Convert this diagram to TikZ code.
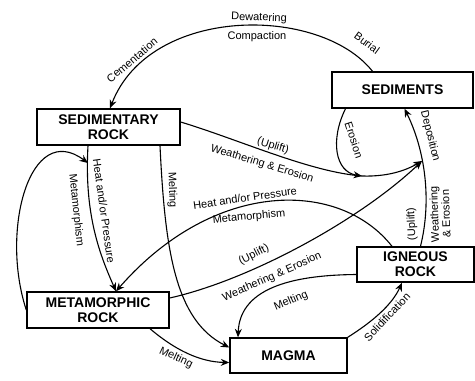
\documentclass[tikz,border=0pt]{standalone}
\usepackage{fontspec}
\setmainfont{Liberation Sans}
\usetikzlibrary{arrows.meta}
\tikzset{>={Stealth[length=8.5pt,width=7pt]}}
\tikzset{box/.style={draw,line width=1.4pt,inner sep=0pt,align=center,font=\fontsize{14}{15}\selectfont\bfseries}}
\tikzset{lbl/.style={inner sep=0pt,align=center,font=\fontsize{11}{11.5}\selectfont}}
\tikzset{flow/.style={->,line width=1.1pt}}

\begin{document}
\begin{tikzpicture}[x=1pt,y=-1pt]
                \useasboundingbox (0,0) rectangle (475,381);
                \node[box,minimum width=143pt,minimum height=36pt] (sedrock) at (108.5,127) {SEDIMENTARY\\ROCK};
                \node[box,minimum width=141pt,minimum height=36pt] (sediments) at (402.5,90) {SEDIMENTS};
                \node[box,minimum width=142pt,minimum height=36pt] (metarock) at (98,310) {METAMORPHIC\\ROCK};
                \node[box,minimum width=117pt,minimum height=35pt] (magma) at (288.5,355.5) {MAGMA};
                \node[box,minimum width=117pt,minimum height=35pt] (igneous) at (415.5,264.5) {IGNEOUS\\ROCK};

                \coordinate (ero) at (362,176);
                \coordinate (dep) at (422,161);
                \coordinate (remeta) at (88,163);

                \draw[flow] ([xshift=-30pt]sediments.north) .. controls (320,5) and (150,5) .. ([xshift=1.5pt]sedrock.north);
                \draw[flow] ([xshift=-57pt]sediments.south) .. controls (330,140) and (335,172) .. (ero);
                \draw[flow] ([yshift=5pt]sedrock.east) .. controls (240,140) and (310,172) .. (ero) .. controls (392,177) and (410,168) .. (dep);
                \draw[flow] ([xshift=5pt]igneous.north) .. controls (432,200) and (425,150) .. ([xshift=2pt]sediments.south);
                \draw[flow] ([xshift=-20.5pt]sedrock.south) .. controls (84,215) and (100,255) .. ([xshift=18pt]metarock.north);
                \draw[flow] (metarock.west) .. controls (0,230) and (30,120) .. (remeta);
                \draw[flow] ([xshift=51.5pt]sedrock.south) .. controls (165,250) and (175,320) .. ([yshift=8pt]magma.west);
                \draw[flow] ([xshift=-23.5pt]igneous.north) .. controls (340,180) and (215,178) .. ([xshift=18pt]metarock.north);
                \draw[flow] ([yshift=12pt]metarock.east) .. controls (250,280) and (360,220) .. (dep);
                \draw[flow] ([yshift=-10pt]igneous.west) .. controls (300,275) and (240,285) .. ([xshift=-50.5pt]magma.north);
                \draw[flow] (magma.north east) .. controls (372,322) and (392,305) .. ([xshift=-13.5pt]igneous.south);
                \draw[flow] ([xshift=52pt]metarock.south) .. controls (175,350) and (200,362) .. ([yshift=-7pt]magma.west);

                \node[lbl,rotate=-2] (dewater) at (259,18) {Dewatering};
                \node[lbl] (compact) at (257,37) {Compaction};
                \node[lbl,rotate=-36] (burial) at (367,43) {Burial};
                \node[lbl,rotate=40] (cement) at (132,60) {Cementation};
                \node[lbl,rotate=-72] (erosion) at (354,140) {Erosion};
                \node[lbl,rotate=-76] (deposit) at (430,136) {Deposition};
                \node[lbl,rotate=93] (upign) at (412,224) {(Uplift)};
                \node[lbl,rotate=92] (weign) at (440,214) {Weathering\\\& Erosion};
                \node[lbl,rotate=-17] (upsed) at (273,146) {(Uplift)};
                \node[lbl,rotate=-17] (wesed) at (262,164) {Weathering \& Erosion};
                \node[lbl,rotate=-82] (heatsed) at (104,211) {Heat and/or Pressure};
                \node[lbl,rotate=-84] (metased) at (76,210) {Metamorphism};
                \node[lbl,rotate=-88] (meltsed) at (172,190) {Melting};
                \node[lbl,rotate=8] (heatign) at (245,198) {Heat and/or Pressure};
                \node[lbl,rotate=5] (metaign) at (249,217) {Metamorphism};
                \node[lbl,rotate=27] (upmeta) at (254,255) {(Uplift)};
                \node[lbl,rotate=24] (wemeta) at (272,277) {Weathering \& Erosion};
                \node[lbl,rotate=23] (meltign) at (291,301) {Melting};
                \node[lbl,rotate=47] (solid) at (387,317) {Solidification};
                \node[lbl,rotate=-25] (meltmeta) at (176,358) {Melting};
            \end{tikzpicture}
\end{document}
